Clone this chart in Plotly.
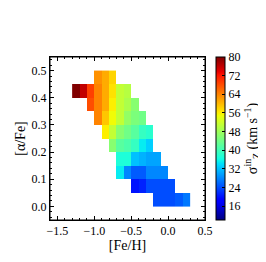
import numpy as np
import plotly.graph_objects as go

# ---- data: cell centres ([Fe/H], [alpha/Fe]) and sigma_Z^in values ----
feh = [
    -0.95, -0.85, -0.75,
    -1.25, -1.15, -1.05, -0.95, -0.85, -0.75, -0.65, -0.55,
    -1.05, -0.95, -0.85, -0.75, -0.65, -0.55, -0.45,
    -0.95, -0.85, -0.75, -0.65, -0.55, -0.45, -0.35,
    -0.85, -0.75, -0.65, -0.55, -0.45, -0.35, -0.25,
    -0.75, -0.65, -0.55, -0.45, -0.35, -0.25,
    -0.65, -0.55, -0.45, -0.35, -0.25, -0.15,
    -0.65, -0.55, -0.45, -0.35, -0.25, -0.15, -0.05,
    -0.45, -0.35, -0.25, -0.15, -0.05, 0.05,
    -0.15, -0.05, 0.05, 0.15, 0.25,
]
alpha = (
    [0.475] * 3 + [0.425] * 8 + [0.375] * 7 + [0.325] * 7 + [0.275] * 7
    + [0.225] * 6 + [0.175] * 6 + [0.125] * 7 + [0.075] * 6 + [0.025] * 5
)
sigma = [
    63, 61, 58,
    80, 76, 69, 64, 61, 57, 51, 50,
    68, 64, 61, 56, 51, 49, 46,
    64, 59, 55, 51, 47, 45, 44,
    56, 51, 46, 44, 42, 39, 38,
    46, 42, 41, 39, 35, 33,
    37, 37, 32, 31, 30, 30,
    35, 28, 25, 25, 28, 28, 28,
    20, 21, 24, 24, 24, 24,
    24, 24, 24, 25, 27,
]
cbar_ticks = [16, 24, 32, 40, 48, 56, 64, 72, 80]
x_ticks = [-1.5, -1.0, -0.5, 0.0, 0.5]
y_ticks = [0.0, 0.1, 0.2, 0.3, 0.4, 0.5]

# ---- matplotlib "jet" colormap ----
def _seg(pts, t):
    xs = [p[0] for p in pts]
    ys = [p[1] for p in pts]
    return float(np.interp(t, xs, ys))

R = [(0, 0), (0.35, 0), (0.66, 1), (0.89, 1), (1, 0.5)]
G = [(0, 0), (0.125, 0), (0.375, 1), (0.64, 1), (0.91, 0), (1, 0)]
B = [(0, 0.5), (0.11, 1), (0.34, 1), (0.65, 0), (1, 0)]
jet = []
for t in np.linspace(0, 1, 101):
    r, g, b = (_seg(R, t), _seg(G, t), _seg(B, t))
    jet.append([float(t), f"rgb({int(round(r*255))},{int(round(g*255))},{int(round(b*255))})"])

FONT = "Liberation Serif"

fig = go.Figure(go.Heatmap(
    x=feh, y=alpha, z=sigma,
    colorscale=jet, zmin=10, zmax=80,
    colorbar=dict(
        x=1.068, xanchor="left", xpad=0, y=0.5, yanchor="middle",
        len=1, lenmode="fraction", ypad=0,
        thickness=9, outlinewidth=1, outlinecolor="black",
        tickvals=cbar_ticks, ticks="inside", ticklen=3, tickcolor="black",
        tickfont=dict(family=FONT, size=12, color="black"),
        title=dict(text="σ<sup>in</sup><sub>Z</sub> (km s<sup>−1</sup>)", side="right",
                   font=dict(family=FONT, size=14, color="black")),
    ),
    hoverinfo="skip",
))

axis_common = dict(
    showgrid=False, zeroline=False, showline=True, linecolor="black", linewidth=1,
    mirror="allticks", ticks="inside", ticklen=4, tickcolor="black", tickwidth=1,
    tickfont=dict(family=FONT, size=12, color="black"),
)
fig.update_xaxes(
    range=[-1.6, 0.5], tickvals=x_ticks, tickformat=".1f",
    minor=dict(tickvals=[-1.6, -1.4, -1.3, -1.2, -1.1, -0.9, -0.8, -0.7, -0.6, -0.4,
                         -0.3, -0.2, -0.1, 0.1, 0.2, 0.3, 0.4],
               ticks="inside", ticklen=2, tickcolor="black", showgrid=False),
    title=dict(text="[Fe/H]", font=dict(family=FONT, size=14, color="black"), standoff=2),
    **axis_common,
)
fig.update_yaxes(
    range=[-0.05, 0.55], tickvals=y_ticks, tickformat=".1f",
    minor=dict(tickvals=[-0.04, -0.02, 0.02, 0.04, 0.06, 0.08, 0.12, 0.14, 0.16, 0.18,
                         0.22, 0.24, 0.26, 0.28, 0.32, 0.34, 0.36, 0.38, 0.42, 0.44,
                         0.46, 0.48, 0.52, 0.54],
               ticks="inside", ticklen=2, tickcolor="black", showgrid=False),
    title=dict(text="[α/Fe]", font=dict(family=FONT, size=14, color="black"), standoff=2),
    **axis_common,
)
fig.add_shape(type="rect", xref="x domain", yref="y domain", x0=0, y0=0, x1=1, y1=1,
              line=dict(color="black", width=1), layer="above")
fig.update_layout(
    width=266, height=262,
    margin=dict(l=36, r=68, t=49, b=50),
    plot_bgcolor="white", paper_bgcolor="white",
)
fig.write_html("out.html")
